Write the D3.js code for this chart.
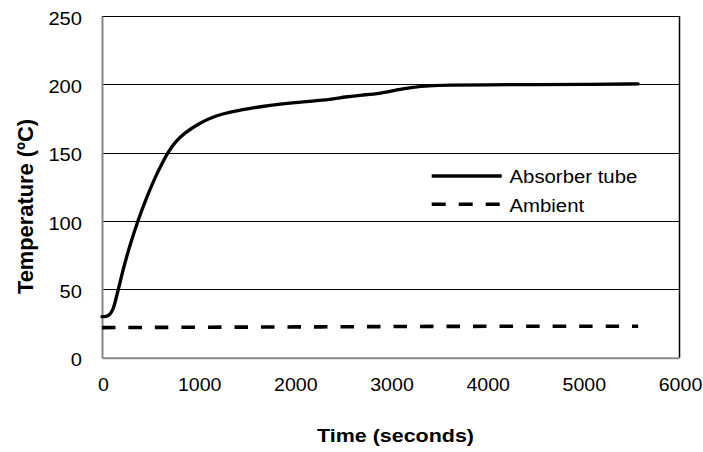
<!DOCTYPE html>
<html>
<head>
<meta charset="utf-8">
<script src="https://cdn.jsdelivr.net/npm/d3@7"></script>
<style>
  html, body { margin: 0; padding: 0; background: #fff; }
  svg { display: block; font-family: "Liberation Sans", Arial, sans-serif; }
</style>
</head>
<body>
<svg id="chart" width="703" height="452"></svg>
<script>
// Time in seconds and temperature in °C
const absorberTime = [0, 40, 80, 115, 140, 170, 200, 250, 300, 372, 450, 550, 620, 685, 760, 850, 1020, 1193, 1331, 1500, 1750, 2000, 2300, 2544, 2700, 2890, 3050, 3236, 3400, 3583, 4000, 4500, 5000, 5575];
const absorberTemp = [30, 30, 31.2, 35, 41.5, 50, 59, 72.5, 84.3, 100, 114.8, 131.6, 141.5, 150.3, 157.8, 164, 172, 177.3, 179.8, 182, 184.8, 186.7, 188.2, 191, 192.2, 193.2, 195.8, 198, 199, 199.4, 199.7, 199.8, 199.9, 200.3];
const ambientTime = [0, 1000, 2000, 3000, 4000, 5000, 5575];
const ambientTemp = [22, 22.3, 22.5, 22.8, 23, 23, 23];

const xTicks = [0, 1000, 2000, 3000, 4000, 5000, 6000];
const yTicks = [0, 50, 100, 150, 200, 250];

const seriesNames = ["Absorber tube", "Ambient"];
const xTitle = "Time (seconds)";
const yTitle = "Temperature (ºC)";

const svg = d3.select("#chart");
const plot = { left: 102, right: 679, top: 16, bottom: 357.7 };

const x = d3.scaleLinear().domain([0, 6000]).range([plot.left, plot.right]);
const y = d3.scaleLinear().domain([0, 250]).range([plot.bottom, plot.top]);

// horizontal gridlines
svg.append("g")
  .selectAll("line")
  .data(yTicks.filter(d => d > 0))
  .join("line")
  .attr("x1", plot.left).attr("x2", plot.right)
  .attr("y1", d => Math.round(y(d)) + 0.5).attr("y2", d => Math.round(y(d)) + 0.5)
  .attr("stroke", "#000").attr("stroke-width", 1);

// right border of the plot area
svg.append("line")
  .attr("x1", plot.right + 0.5).attr("x2", plot.right + 0.5)
  .attr("y1", plot.top).attr("y2", plot.bottom)
  .attr("stroke", "#000").attr("stroke-width", 1.5);

// axes
const fmt = d3.format("d");
const xAxis = d3.axisBottom(x).tickValues(xTicks).tickFormat(fmt).tickSize(0).tickSizeOuter(0).tickPadding(0);
const yAxis = d3.axisLeft(y).tickValues(yTicks).tickFormat(fmt).tickSize(0).tickSizeOuter(0).tickPadding(0);

const gx = svg.append("g").attr("transform", `translate(0,${plot.bottom})`).call(xAxis);
const gy = svg.append("g").attr("transform", `translate(${plot.left},0)`).call(yAxis);

[gx, gy].forEach(g => {
  g.select(".domain").attr("stroke", "#868686").attr("stroke-width", 2);
  g.selectAll("text")
    .attr("font-family", "Liberation Sans, Arial, sans-serif")
    .attr("font-size", 17.5)
    .attr("fill", "#000")
    .attr("x", 0).attr("y", 0).attr("dy", null);
});
gx.selectAll("text").attr("text-anchor", "middle")
  .attr("transform", "translate(1,33.3) scale(1.12,1)");
gy.selectAll("text").attr("text-anchor", "end")
  .attr("transform", "translate(-20,8) scale(1.15,1)");

// series
const line = d3.line().x(d => x(d[0])).y(d => y(d[1])).curve(d3.curveBasis);

const absorberData = absorberTime.map((t, i) => [t, absorberTemp[i]]);
const ambientData = ambientTime.map((t, i) => [t, ambientTemp[i]]);

svg.append("path")
  .datum(ambientData)
  .attr("d", line)
  .attr("fill", "none")
  .attr("stroke", "#000")
  .attr("stroke-width", 3.6)
  .attr("stroke-dasharray", "13.5,13");

svg.append("path")
  .datum(absorberData)
  .attr("d", line)
  .attr("fill", "none")
  .attr("stroke", "#000")
  .attr("stroke-width", 3.3)
  .attr("stroke-linejoin", "round")
  .attr("stroke-linecap", "round");

// legend
const legend = svg.append("g");
const legendRows = [
  { name: seriesNames[0], y: 176, dash: null, width: 3.3, baseline: 182.7 },
  { name: seriesNames[1], y: 204.3, dash: "14,13", width: 3.6, baseline: 211.7 }
];
legendRows.forEach(r => {
  legend.append("line")
    .attr("x1", 431.7).attr("x2", 501.7)
    .attr("y1", r.y).attr("y2", r.y)
    .attr("stroke", "#000").attr("stroke-width", r.width)
    .attr("stroke-dasharray", r.dash);
  legend.append("text")
    .attr("transform", `translate(509.5,${r.baseline}) scale(1.1,1)`)
    .attr("font-size", 18.5)
    .attr("fill", "#000")
    .text(r.name);
});

// axis titles
svg.append("text")
  .attr("x", 395.5).attr("y", 441.5)
  .attr("text-anchor", "middle")
  .attr("font-size", 18.5)
  .attr("font-weight", "bold")
  .attr("textLength", 157)
  .attr("lengthAdjust", "spacingAndGlyphs")
  .text(xTitle);

svg.append("text")
  .attr("transform", "translate(33,206.5) rotate(-90) scale(1,1.2)")
  .attr("text-anchor", "middle")
  .attr("font-size", 19)
  .attr("font-weight", "bold")
  .attr("textLength", 175)
  .attr("lengthAdjust", "spacingAndGlyphs")
  .text(yTitle);
</script>
</body>
</html>
